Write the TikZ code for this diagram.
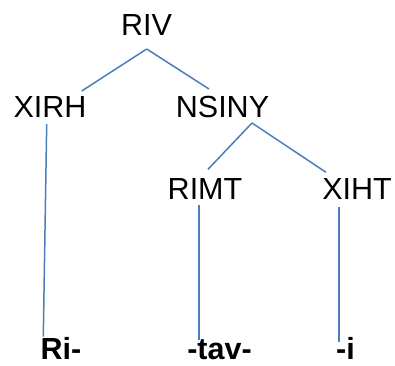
\documentclass[tikz,border=0pt]{standalone}
\usepackage{fontspec}
\setmainfont{Liberation Sans}
\usetikzlibrary{calc}
\definecolor{linkblue}{HTML}{4A7EBB}
\begin{document}
\begin{tikzpicture}[x=1pt,y=-1pt,
  lab/.style={inner sep=0pt,anchor=base,font=\fontsize{30.5}{34}\selectfont},
  morph/.style={lab,font=\fontsize{30.5}{34}\selectfont\bfseries},
  branch/.style={draw=linkblue,line width=1.5pt}]
\useasboundingbox (0,0) rectangle (395,365);
\node[lab] (RIV) at (146.5,35) {RIV};
\node[lab] (XIRH) at (50,117) {XIRH};
\node[lab] (NSINY) at (222.5,117) {NSINY};
\node[lab] (RIMT) at (205,199) {RIMT};
\node[lab] (XIHT) at (357,199) {XIHT};
\node[morph] (Ri) at (61,359) {Ri-};
\node[morph] (tav) at (219.5,359) {-tav-};
\node[morph] (i) at (345.5,359) {-i};
\draw[branch] ($(RIV.base)+(0.2,14)$) -- ($(XIRH.base)+(31.7,-26)$);
\draw[branch] ($(RIV.base)+(0.2,14)$) -- ($(NSINY.base)+(-13.5,-28)$);
\draw[branch] ($(XIRH.base)+(-3.3,7)$) -- ($(Ri.base)+(-17.7,-22.3)$);
\draw[branch] ($(NSINY.base)+(29.5,6)$) -- ($(RIMT.base)+(3,-29.7)$);
\draw[branch] ($(NSINY.base)+(29.5,6)$) -- ($(XIHT.base)+(-31,-26.7)$);
\draw[branch] ($(RIMT.base)+(-6,6)$) -- ($(tav.base)+(-20.5,-19)$);
\draw[branch] ($(XIHT.base)+(-18,8.3)$) -- ($(i.base)+(-6.5,-17.3)$);
\end{tikzpicture}
\end{document}
